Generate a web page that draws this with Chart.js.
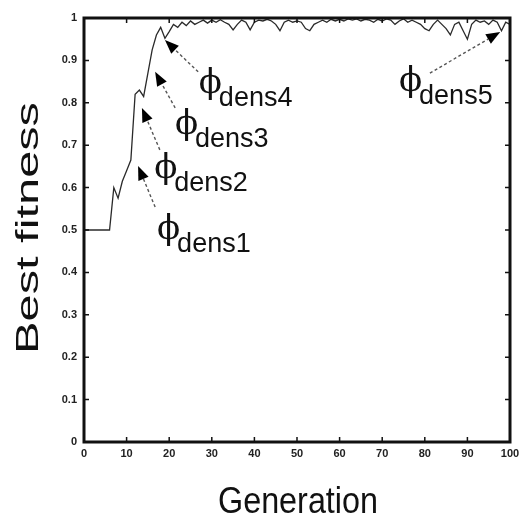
<!DOCTYPE html>
<html lang="en">
<head>
<meta charset="UTF-8">
<title>Best fitness per generation</title>
<script src="https://cdn.jsdelivr.net/npm/chart.js"></script>
<style>
    body { margin: 0; background: #fff; }
    #wrap { width: 529px; height: 525px; position: relative; }
</style>
</head>
<body>
<div id="wrap"><canvas id="fitChart"></canvas></div>
<script>
    // generation numbers 0..100
    const generations = [
        0, 1, 2, 3, 4, 5, 6, 7, 8, 9,
        10, 11, 12, 13, 14, 15, 16, 17, 18, 19,
        20, 21, 22, 23, 24, 25, 26, 27, 28, 29,
        30, 31, 32, 33, 34, 35, 36, 37, 38, 39,
        40, 41, 42, 43, 44, 45, 46, 47, 48, 49,
        50, 51, 52, 53, 54, 55, 56, 57, 58, 59,
        60, 61, 62, 63, 64, 65, 66, 67, 68, 69,
        70, 71, 72, 73, 74, 75, 76, 77, 78, 79,
        80, 81, 82, 83, 84, 85, 86, 87, 88, 89,
        90, 91, 92, 93, 94, 95, 96, 97, 98, 99,
        100
    ];

    // best fitness of the population at each generation
    const bestFitness = [
        0.5, 0.5, 0.5, 0.5, 0.5, 0.5, 0.5, 0.60, 0.575, 0.615,
        0.64, 0.665, 0.82, 0.83, 0.815, 0.87, 0.925, 0.96, 0.978, 0.952,
        0.968, 0.985, 0.978, 0.99, 0.982, 0.993, 0.985, 0.99, 0.995, 0.988,
        0.995, 0.99, 0.996, 0.99, 0.985, 0.972, 0.985, 0.995, 0.99, 0.972,
        0.99, 0.995, 0.993, 0.997, 0.993, 0.985, 0.97, 0.99, 0.995, 0.99,
        0.993, 0.99, 0.975, 0.97, 0.985, 0.99, 0.995, 0.99, 0.997, 0.993,
        0.997, 0.993, 0.998, 0.995, 0.998, 0.993, 0.997, 0.995, 0.99, 0.997,
        0.993, 0.998, 0.995, 0.985, 0.993, 0.998, 0.99, 0.995, 0.99, 0.985,
        0.975, 0.97, 0.985, 0.995, 0.985, 0.975, 0.96, 0.985, 0.99, 0.97,
        0.95, 0.985, 0.995, 0.99, 0.993, 0.985, 0.995, 0.99, 0.97, 0.99,
        0.985
    ];

    const xTicks = [0, 10, 20, 30, 40, 50, 60, 70, 80, 90, 100];
    const yTicks = [0, 0.1, 0.2, 0.3, 0.4, 0.5, 0.6, 0.7, 0.8, 0.9, 1];

    // phi_dens annotations: subscript, label anchor, arrow tail and arrow tip (data units)
    const marks = [
        { sub: 'dens1', at: [17.4, 0.448], from: [16.7, 0.554], to: [12.7, 0.651] },
        { sub: 'dens2', at: [16.7, 0.592], from: [17.8, 0.689], to: [13.6, 0.788] },
        { sub: 'dens3', at: [21.6, 0.696], from: [21.4, 0.788], to: [16.7, 0.873] },
        { sub: 'dens4', at: [27.2, 0.792], from: [26.8, 0.873], to: [19.0, 0.948] },
        { sub: 'dens5', at: [74.2, 0.797], from: [81.2, 0.870], to: [97.7, 0.967] }
    ];

    // text squeezed/stretched to a given length
    function fitText(ctx, text, x, y, len, rot) {
        ctx.save();
        ctx.translate(x, y);
        ctx.rotate(rot);
        const w = ctx.measureText(text).width;
        ctx.scale(len / w, 1);
        ctx.textAlign = 'center';
        ctx.fillText(text, 0, 0);
        ctx.restore();
    }

    const framePlugin = {
        id: 'frame',
        afterDraw(chart) {
            const ctx = chart.ctx;
            const a = chart.chartArea;
            const xs = chart.scales.x, ys = chart.scales.y;
            ctx.save();

            // box
            ctx.strokeStyle = '#111';
            ctx.lineWidth = 3;
            ctx.strokeRect(a.left, a.top, a.right - a.left, a.bottom - a.top);

            // inward tick marks on all four sides
            ctx.lineWidth = 1.5;
            ctx.beginPath();
            xTicks.forEach(t => {
                const px = xs.getPixelForValue(t);
                ctx.moveTo(px, a.bottom); ctx.lineTo(px, a.bottom - 5);
                ctx.moveTo(px, a.top); ctx.lineTo(px, a.top + 5);
            });
            yTicks.forEach(t => {
                const py = ys.getPixelForValue(t);
                ctx.moveTo(a.left, py); ctx.lineTo(a.left + 5, py);
                ctx.moveTo(a.right, py); ctx.lineTo(a.right - 5, py);
            });
            ctx.stroke();

            // axis titles
            ctx.fillStyle = '#111';
            ctx.textBaseline = 'alphabetic';
            ctx.font = '36px "Liberation Sans Narrow", "Liberation Sans", sans-serif';
            fitText(ctx, 'Generation', (a.left + a.right) / 2 + 1, 513, 160, 0);
            ctx.font = '32px "Liberation Sans", sans-serif';
            fitText(ctx, 'Best fitness', 38, 228, 252, -Math.PI / 2);

            // arrows and phi labels
            marks.forEach(m => {
                const x0 = xs.getPixelForValue(m.from[0]), y0 = ys.getPixelForValue(m.from[1]);
                const x1 = xs.getPixelForValue(m.to[0]), y1 = ys.getPixelForValue(m.to[1]);
                const ang = Math.atan2(y1 - y0, x1 - x0);
                const hl = 14, hw = 5.5;
                const bx = x1 - hl * Math.cos(ang), by = y1 - hl * Math.sin(ang);

                ctx.strokeStyle = '#555';
                ctx.lineWidth = 1.4;
                ctx.setLineDash([3, 2.5]);
                ctx.beginPath();
                ctx.moveTo(x0, y0);
                ctx.lineTo(bx, by);
                ctx.stroke();
                ctx.setLineDash([]);

                ctx.fillStyle = '#000';
                ctx.beginPath();
                ctx.moveTo(x1, y1);
                ctx.lineTo(bx + hw * Math.sin(ang), by - hw * Math.cos(ang));
                ctx.lineTo(bx - hw * Math.sin(ang), by + hw * Math.cos(ang));
                ctx.closePath();
                ctx.fill();

                const lx = xs.getPixelForValue(m.at[0]), ly = ys.getPixelForValue(m.at[1]);
                ctx.fillStyle = '#111';
                ctx.textAlign = 'left';
                ctx.font = '34px "DejaVu Serif", serif';
                ctx.fillText('\u03D5', lx - 1, ly - 13);
                ctx.font = '27px "Liberation Sans", sans-serif';
                ctx.fillText(m.sub, lx + 19, ly);
            });
            ctx.restore();
        }
    };

    const tickFont = { family: '"Liberation Sans Narrow", "Liberation Sans", sans-serif', size: 11, weight: 'bold' };

    new Chart(document.getElementById('fitChart'), {
        type: 'line',
        data: {
            datasets: [{
                data: generations.map((g, i) => ({ x: g, y: bestFitness[i] })),
                borderColor: '#2a2a2a',
                borderWidth: 1.3,
                pointRadius: 0,
                tension: 0,
                fill: false
            }]
        },
        options: {
            responsive: true,
            maintainAspectRatio: false,
            animation: false,
            layout: { padding: { top: 18, right: 19, left: 0, bottom: 0 } },
            plugins: { legend: { display: false }, tooltip: { enabled: false } },
            scales: {
                x: {
                    type: 'linear',
                    min: 0, max: 100,
                    afterBuildTicks: s => { s.ticks = xTicks.map(v => ({ value: v })); },
                    afterFit: s => { s.height = 83; },
                    grid: { display: false, drawTicks: false },
                    border: { display: false },
                    ticks: { color: '#222', font: tickFont, padding: 5, maxRotation: 0, autoSkip: false,
                             callback: v => String(v) }
                },
                y: {
                    min: 0, max: 1,
                    afterBuildTicks: s => { s.ticks = yTicks.map(v => ({ value: v })); },
                    afterFit: s => { s.width = 84; },
                    grid: { display: false, drawTicks: false },
                    border: { display: false },
                    ticks: { color: '#222', font: tickFont, padding: 7, autoSkip: false,
                             callback: v => String(v) }
                }
            }
        },
        plugins: [framePlugin]
    });
</script>
</body>
</html>
